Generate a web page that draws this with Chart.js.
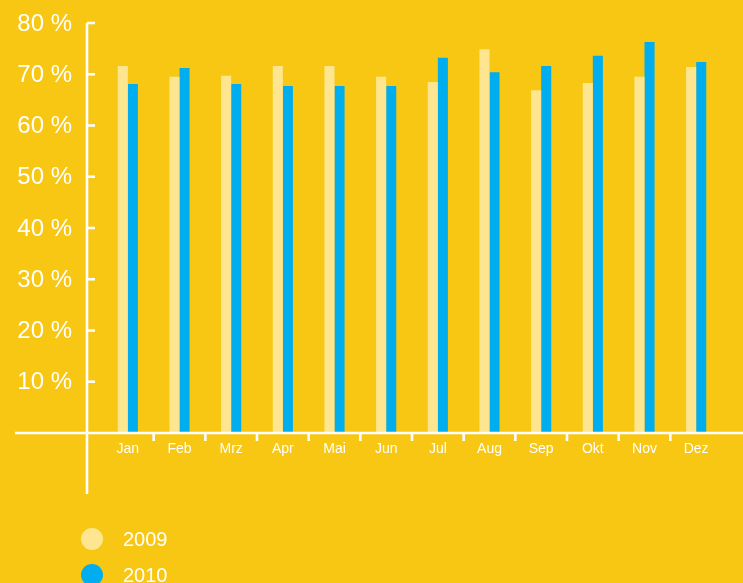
<!DOCTYPE html>
<html>
<head>
<meta charset="utf-8">
<script src="https://cdn.jsdelivr.net/npm/chart.js"></script>
<style>
  html, body { margin: 0; padding: 0; background: #F7C714; overflow: hidden; }
  canvas { display: block; }
</style>
</head>
<body>
<canvas id="chart" width="743" height="583"></canvas>
<script>
// Data
const months = ['Jan', 'Feb', 'Mrz', 'Apr', 'Mai', 'Jun', 'Jul', 'Aug', 'Sep', 'Okt', 'Nov', 'Dez'];
const values2009 = [71.6, 69.5, 69.7, 71.6, 71.6, 69.5, 68.5, 74.9, 66.9, 68.3, 69.5, 71.4];
const values2010 = [68.1, 71.2, 68.1, 67.7, 67.7, 67.7, 73.2, 70.4, 71.6, 73.6, 76.3, 72.4];
const yTicks = [10, 20, 30, 40, 50, 60, 70, 80];

const white = '#ffffff';
const fontFamily = '"Liberation Sans", Arial, Helvetica, sans-serif';

// Custom axes + legend drawn on top of the bars
const axesPlugin = {
    id: 'axesPlugin',
    afterDraw(chart) {
        const ctx = chart.ctx;
        const area = chart.chartArea;
        const x = chart.scales.x;
        const y = chart.scales.y;
        const axisX = area.left - 15;
        const zeroY = y.getPixelForValue(0);

        ctx.save();
        ctx.strokeStyle = white;
        ctx.lineWidth = 2.6;

        // y axis line
        ctx.beginPath();
        ctx.moveTo(axisX, y.getPixelForValue(80));
        ctx.lineTo(axisX, zeroY + 61);
        ctx.stroke();

        // x axis line
        ctx.beginPath();
        ctx.moveTo(15, zeroY);
        ctx.lineTo(chart.width, zeroY);
        ctx.stroke();

        // y ticks and labels
        ctx.fillStyle = white;
        ctx.font = '24px ' + fontFamily;
        ctx.textAlign = 'right';
        ctx.textBaseline = 'middle';
        yTicks.forEach(v => {
            const py = y.getPixelForValue(v);
            ctx.beginPath();
            ctx.moveTo(axisX, py);
            ctx.lineTo(axisX + 8, py);
            ctx.stroke();
            ctx.fillText(v + ' %', axisX - 15, py + 1);
        });

        // separators between months
        for (let i = 0; i < months.length - 1; i++) {
            const px = (x.getPixelForValue(i) + x.getPixelForValue(i + 1)) / 2;
            ctx.beginPath();
            ctx.moveTo(px, zeroY);
            ctx.lineTo(px, zeroY + 8);
            ctx.stroke();
        }

        // legend
        ctx.textAlign = 'left';
        ctx.font = '20px ' + fontFamily;
        chart.data.datasets.forEach((ds, i) => {
            const cy = 539 + i * 36;
            ctx.fillStyle = ds.backgroundColor;
            ctx.beginPath();
            ctx.arc(92, cy, 11, 0, Math.PI * 2);
            ctx.fill();
            ctx.fillStyle = white;
            ctx.fillText(ds.label, 123, cy + 1);
        });
        ctx.restore();
    }
};

const chart = new Chart(document.getElementById('chart'), {
    type: 'bar',
    data: {
        labels: months,
        datasets: [
            { label: '2009', data: values2009, backgroundColor: '#FEE58F' },
            { label: '2010', data: values2010, backgroundColor: '#00ADEE' }
        ]
    },
    options: {
        responsive: false,
        animation: false,
        devicePixelRatio: 1,
        layout: { padding: { left: 102, right: 21, top: 23, bottom: 0 } },
        datasets: {
            bar: { barPercentage: 1.0, categoryPercentage: 0.39, borderWidth: 0 }
        },
        plugins: {
            legend: { display: false },
            tooltip: { enabled: false }
        },
        scales: {
            y: {
                display: false,
                min: 0,
                max: 80
            },
            x: {
                grid: { display: false, drawTicks: false },
                border: { display: false },
                ticks: {
                    color: white,
                    font: { size: 14, family: fontFamily },
                    padding: 8,
                    maxRotation: 0,
                    autoSkip: false
                },
                afterFit(scale) {
                    scale.height = 150;
                }
            }
        }
    },
    plugins: [axesPlugin]
});
</script>
</body>
</html>
